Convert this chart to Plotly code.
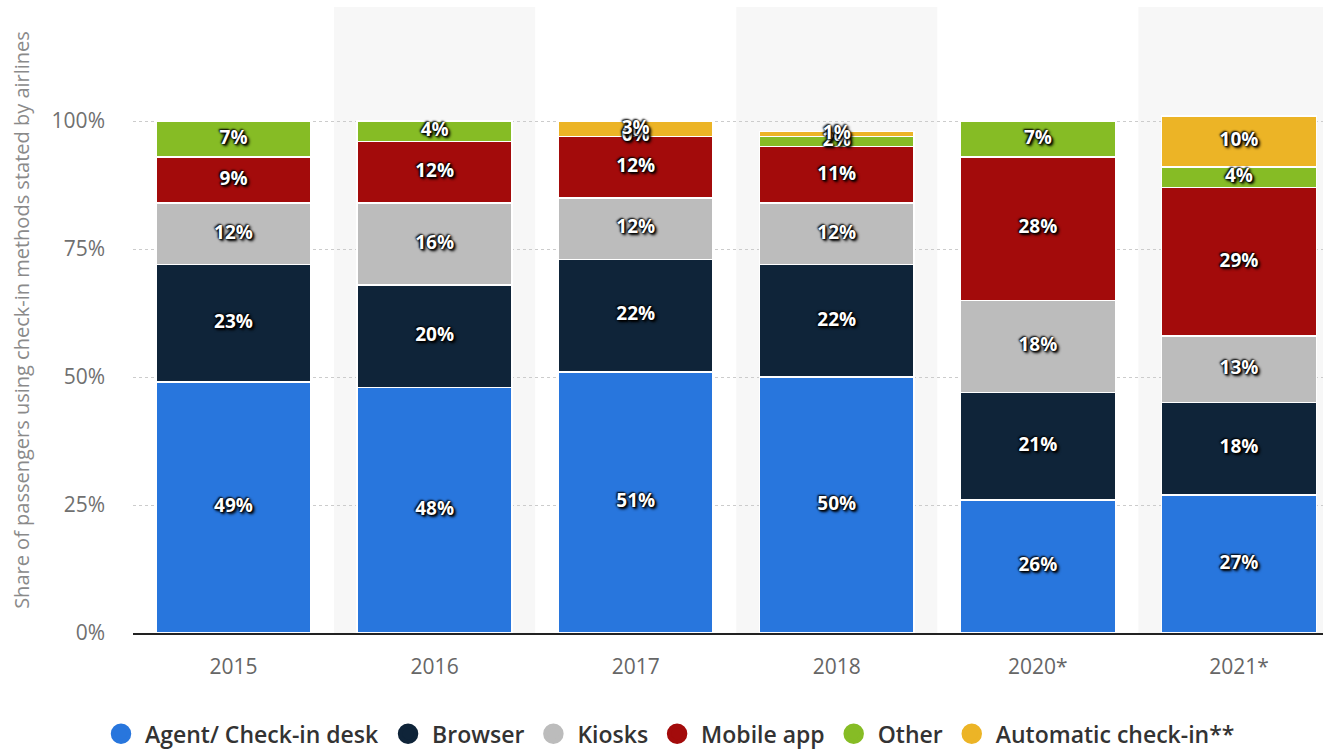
import plotly.graph_objects as go

# Check-in methods by year (share of passengers, %)
years = ["2015", "2016", "2017", "2018", "2020*", "2021*"]
agent_desk = [49, 48, 51, 50, 26, 27]
browser = [23, 20, 22, 22, 21, 18]
kiosks = [12, 16, 12, 12, 18, 13]
mobile_app = [9, 12, 12, 11, 28, 29]
other = [7, 4, 0, 2, 7, 4]
automatic = [None, None, 3, 1, None, 10]

y_ticks = [0, 25, 50, 75, 100]
y_tick_labels = ["0%", "25%", "50%", "75%", "100%"]

series = [
    ("Agent/ Check-in desk", agent_desk, "#2876dd"),
    ("Browser", browser, "#0f2439"),
    ("Kiosks", kiosks, "#bcbcbc"),
    ("Mobile app", mobile_app, "#a30b0b"),
    ("Other", other, "#86bc25"),
    ("Automatic check-in**", automatic, "#ecb426"),
]

label_font = dict(
    family="Open Sans", size=19, color="white", weight="bold",
    shadow="0px 0px 2px #000, 1px 1px 2px #000, -1px -1px 2px #000, 2px 2px 3px #000",
)

fig = go.Figure()

for name, vals, color in series:
    fig.add_trace(go.Bar(
        x=years, y=vals, name=name,
        marker=dict(color=color, line=dict(color="white", width=1.5)),
        width=0.77,
        showlegend=False,
        hoverinfo="skip",
    ))

# value labels centred on each stacked segment (later series drawn on top)
lab_x, lab_y, lab_t = [], [], []
base = [0] * len(years)
for name, vals, color in series:
    for i, v in enumerate(vals):
        if v is None:
            continue
        lab_x.append(years[i])
        lab_y.append(base[i] + v / 2)
        lab_t.append(f"{v}%")
        base[i] += v
fig.add_trace(go.Scatter(
    x=lab_x, y=lab_y, text=lab_t, mode="text",
    textposition="middle center", textfont=label_font,
    cliponaxis=False, showlegend=False, hoverinfo="skip",
))

# circle markers for the legend
for name, vals, color in series:
    fig.add_trace(go.Scatter(
        x=[None], y=[None], mode="markers", name=name,
        marker=dict(color=color, size=16, symbol="circle",
                    line=dict(color=color, width=4.5)),
        showlegend=True,
    ))

# alternating background bands behind every other category
for i in range(1, len(years), 2):
    fig.add_shape(
        type="rect", xref="x", yref="paper",
        x0=i - 0.5, x1=i + 0.5, y0=0, y1=1,
        fillcolor="#f7f7f7", line=dict(width=0), layer="below",
    )

fig.update_layout(
    barmode="stack",
    width=1323, height=755,
    margin=dict(l=133, r=0, t=7, b=122, autoexpand=False),
    plot_bgcolor="white",
    paper_bgcolor="white",
    font=dict(family="Open Sans", color="#666666"),
    legend=dict(
        orientation="h", x=0.45, xanchor="center",
        y=-0.161, yanchor="middle",
        font=dict(family="Open Sans", size=23, color="#333333", weight=600),
        itemsizing="trace", traceorder="normal", itemwidth=38,
    ),
    xaxis=dict(
        type="category",
        range=[-0.5, 5.418],
        showgrid=False,
        showline=True, linecolor="#222222", linewidth=1.5,
        ticks="", tickfont=dict(size=21, color="#666666"),
        ticklabelstandoff=14,
    ),
    yaxis=dict(
        range=[0, 122.3],
        tickvals=y_ticks, ticktext=y_tick_labels,
        tickfont=dict(size=21, color="#707070"),
        showgrid=True, gridcolor="#cccccc", griddash="dot", gridwidth=1,
        zeroline=False,
        ticklabelstandoff=27,
        title=dict(
            text="Share of passengers using check-in methods stated by airlines",
            font=dict(size=20, color="#8a8a8a"),
            standoff=16,
        ),
    ),
)

fig.write_html("out.html")
